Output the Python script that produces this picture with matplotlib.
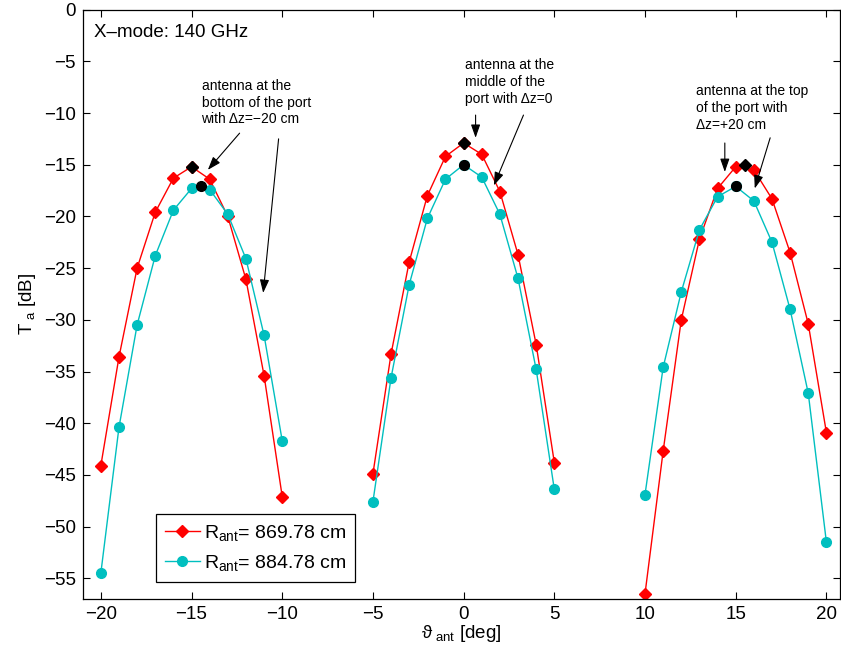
import numpy as np
import matplotlib
matplotlib.use("Agg")
import matplotlib.pyplot as plt

plt.rcParams['font.family'] = ['Liberation Sans', 'DejaVu Sans']
plt.rcParams['mathtext.fontset'] = 'custom'
plt.rcParams['mathtext.rm'] = 'Liberation Sans'
plt.rcParams['mathtext.it'] = 'Liberation Sans:italic'

# antenna angle [deg] for the three port positions
theta_bottom = [-20, -19, -18, -17, -16, -15, -14, -13, -12, -11, -10]
theta_middle = [-5, -4, -3, -2, -1, 0, 1, 2, 3, 4, 5]
theta_top = [10, 11, 12, 13, 14, 15, 16, 17, 18, 19, 20]

# T_a [dB], R_ant = 869.78 cm
ta_869_bottom = [-44.1, -33.6, -25.0, -19.6, -16.3, -15.2, -16.4, -20.0, -26.1, -35.4, -47.1]
ta_869_middle = [-44.9, -33.3, -24.4, -18.0, -14.2, -12.9, -14.0, -17.6, -23.7, -32.4, -43.8]
ta_869_top = [-56.5, -42.7, -30.0, -22.2, -17.3, -15.2, -15.5, -18.3, -23.5, -30.4, -40.9]

# T_a [dB], R_ant = 884.78 cm
ta_884_bottom = [-54.5, -40.4, -30.5, -23.8, -19.4, -17.3, -17.4, -19.8, -24.1, -31.5, -41.7]
ta_884_middle = [-47.6, -35.6, -26.6, -20.2, -16.4, -15.0, -16.2, -19.8, -26.0, -34.8, -46.4]
ta_884_top = [-46.9, -34.6, -27.3, -21.3, -18.1, -17.1, -18.5, -22.5, -29.0, -37.1, -51.5]

# marked maxima
peak_869_theta = [-15, 0, 15.5]
peak_869_ta = [-15.2, -12.9, -15.0]
peak_884_theta = [-14.5, 0, 15]
peak_884_ta = [-17.1, -15.0, -17.1]

red = '#ff0000'
cyan = '#00bfbf'

fig = plt.figure(figsize=(8.41, 6.5), dpi=100)
ax = fig.add_axes([82.7 / 841, 51 / 650, (840 - 82.7) / 841, (599 - 9.6) / 650])

h1 = None
h2 = None
for th, a, b in [(theta_bottom, ta_869_bottom, ta_884_bottom),
                 (theta_middle, ta_869_middle, ta_884_middle),
                 (theta_top, ta_869_top, ta_884_top)]:
    h1, = ax.plot(th, a, '-', color=red, marker='D', ms=6, lw=1)
    h2, = ax.plot(th, b, '-', color=cyan, marker='o', ms=7, lw=1)

ax.plot(peak_869_theta, peak_869_ta, 'kD', ms=6.5, ls='none')
ax.plot(peak_884_theta, peak_884_ta, 'ko', ms=7, ls='none')

ax.set_xlim(-21, 20.75)
ax.set_ylim(-57, 0)
ax.set_xticks(np.arange(-20, 21, 5))
ax.set_yticks(np.arange(-55, 1, 5))
ax.tick_params(direction='in', top=True, right=True, length=5, width=0.8, labelsize=13.5, pad=5)
for s in ax.spines.values():
    s.set_linewidth(0.9)

ax.set_xlabel(r'ϑ$_{\rm\ ant}$ [deg]', fontsize=13.5, labelpad=0)
ax.set_ylabel(r'T$_{\rm\ a}$ [dB]', fontsize=13.5, labelpad=4)

ax.text(-20.4, -2.2, 'X\u2013mode: 140 GHz', fontsize=13.5, ha='left', va='center')

txt = dict(fontsize=10, ha='left', va='center', linespacing=1.25)
ax.text(-14.45, -9.0, 'antenna at the\nbottom of the port\nwith \u0394z=\u221220 cm', **txt)
ax.text(0.05, -7.0, 'antenna at the\nmiddle of the\nport with \u0394z=0', **txt)
ax.text(12.8, -9.5, 'antenna at the top\nof the port with\n\u0394z=+20 cm', **txt)

arrows = [((-12.35, -11.95), (-14.1, -15.5)),
          ((-10.2, -12.5), (-11.05, -27.4)),
          ((0.66, -10.2), (0.66, -12.4)),
          ((3.3, -10.2), (1.67, -17.0)),
          ((14.4, -12.9), (14.4, -15.7)),
          ((16.9, -12.4), (16.05, -17.3))]
for start, end in arrows:
    ax.annotate('', xy=end, xytext=start,
                arrowprops=dict(arrowstyle='-|>,head_length=0.8,head_width=0.28',
                                color='k', lw=0.8, shrinkA=0, shrinkB=0))

leg = ax.legend([h1, h2], [r'R$_{\rm ant}$= 869.78 cm', r'R$_{\rm ant}$= 884.78 cm'],
                loc='lower left', bbox_to_anchor=(156 / 841, 68 / 650),
                bbox_transform=fig.transFigure, fontsize=14, fancybox=False,
                framealpha=1, edgecolor='k', borderpad=0.45, handlelength=1.8,
                handletextpad=0.2, labelspacing=0.55, borderaxespad=0)
leg.get_frame().set_linewidth(0.9)

fig.savefig('out.png', dpi=100)
